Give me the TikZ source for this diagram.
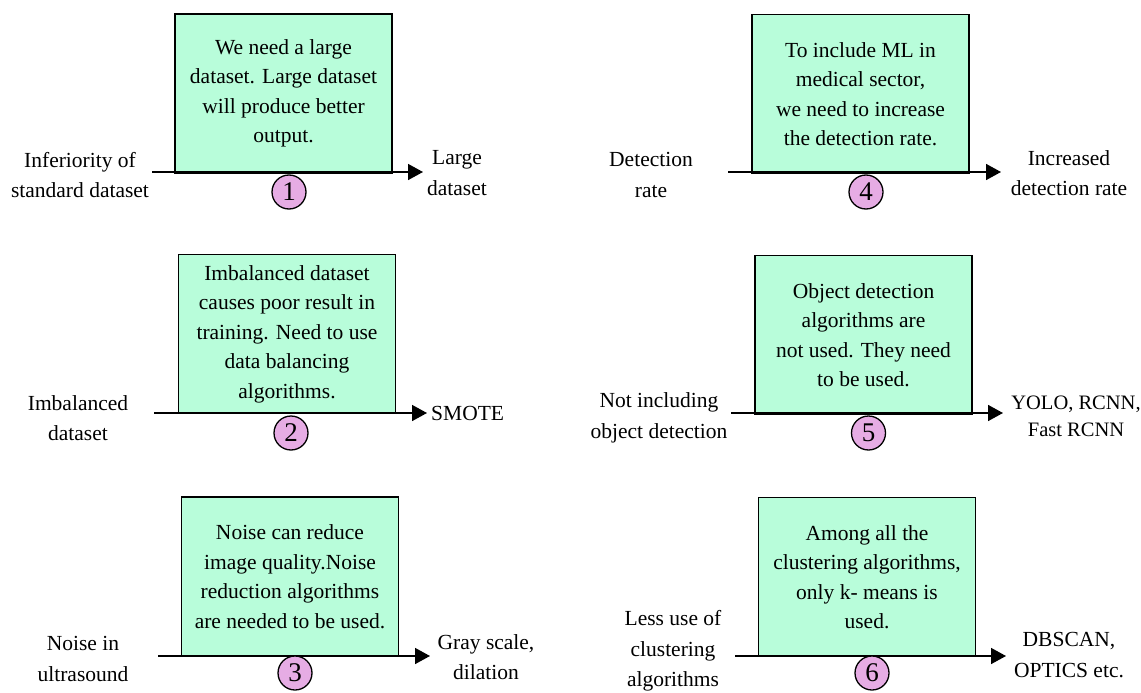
\documentclass[tikz,border=0pt]{standalone}
\usepackage{fontspec}
\setmainfont{Liberation Serif}
\usetikzlibrary{arrows.meta}
\definecolor{mint}{RGB}{184,253,218}
\definecolor{pinkc}{RGB}{230,172,228}
\tikzset{
  box/.style={draw=black, line width=1.6pt, fill=mint, minimum width=217pt, minimum height=159pt, align=center, inner sep=0pt, font=\fontsize{21.5}{29.5}\selectfont},
  num/.style={draw=black, line width=1.3pt, fill=pinkc, circle, minimum size=34pt, inner sep=0pt, font=\fontsize{27}{27}\selectfont},
  lbl/.style={align=center, inner sep=0pt, font=\fontsize{21.5}{30.5}\selectfont},
  arr/.style={line width=1.6pt, -{Triangle[length=15pt,width=16pt]}}
}
\begin{document}
\begin{tikzpicture}[x=1pt,y=-1pt]
\useasboundingbox (0,0) rectangle (1141,693);
% ---------- Panel 1
\coordinate (s1) at (152,172); \coordinate (e1) at (423,172);
\node[box] (b1) at (283.5,93.5) {We need a large\\dataset. Large dataset\\will produce  better\\output.};
\draw[arr] (s1) -- (e1);
\node[num] (c1) at (289,192) {1};
\node[lbl] (l1) at (80,175) {Inferiority of\\standard dataset};
\node[lbl] (r1) at (457,173) {Large\\dataset};
% ---------- Panel 2
\coordinate (s2) at (154,413); \coordinate (e2) at (427,413);
\node[box] (b2) at (287,334) {Imbalanced dataset\\causes poor result in\\training. Need to use\\data balancing\\algorithms.};
\draw[arr] (s2) -- (e2);
\node[num] (c2) at (291,433) {2};
\node[lbl] (l2) at (78,418) {Imbalanced\\dataset};
\node[lbl, anchor=west] (r2) at (431,413) {SMOTE};
% ---------- Panel 3
\coordinate (s3) at (158,656); \coordinate (e3) at (430,656);
\node[box] (b3) at (290,576.5) {Noise can reduce\\image  quality.Noise\\reduction algorithms\\are needed to be used.};
\draw[arr] (s3) -- (e3);
\node[num] (c3) at (295,673) {3};
\node[lbl] (l3) at (83,659) {Noise in\\ultrasound};
\node[lbl] (r3) at (486,657) {Gray scale,\\dilation};
% ---------- Panel 4
\coordinate (s4) at (728,172); \coordinate (e4) at (1001,172);
\node[box] (b4) at (860.5,94) {To include ML in\\medical  sector,\\we need to increase\\the detection rate.};
\draw[arr] (s4) -- (e4);
\node[num] (c4) at (866,192) {4};
\node[lbl] (l4) at (651,175) {Detection\\rate};
\node[lbl] (r4) at (1069,173) {Increased\\detection rate};
% ---------- Panel 5
\coordinate (s5) at (731,413); \coordinate (e5) at (1003,413);
\node[box] (b5) at (863.5,335) {Object detection\\algorithms are\\not used. They need\\to be used.};
\draw[arr] (s5) -- (e5);
\node[num] (c5) at (868.5,433) {5};
\node[lbl] (l5) at (659,418) {Not including\\object detection};
\node[lbl, font=\fontsize{20.5}{27}\selectfont] (r5) at (1076,416) {YOLO, RCNN,\\Fast RCNN};
% ---------- Panel 6
\coordinate (s6) at (735,656); \coordinate (e6) at (1006,656);
\node[box] (b6) at (867,577) {Among all the\\clustering algorithms,\\only k- means is\\used.};
\draw[arr] (s6) -- (e6);
\node[num] (c6) at (872,673) {6};
\node[lbl] (l6) at (673,651) {Less use of\\clustering\\algorithms};
\node[lbl] (r6) at (1069,655) {DBSCAN,\\OPTICS etc.};
\end{tikzpicture}
\end{document}
